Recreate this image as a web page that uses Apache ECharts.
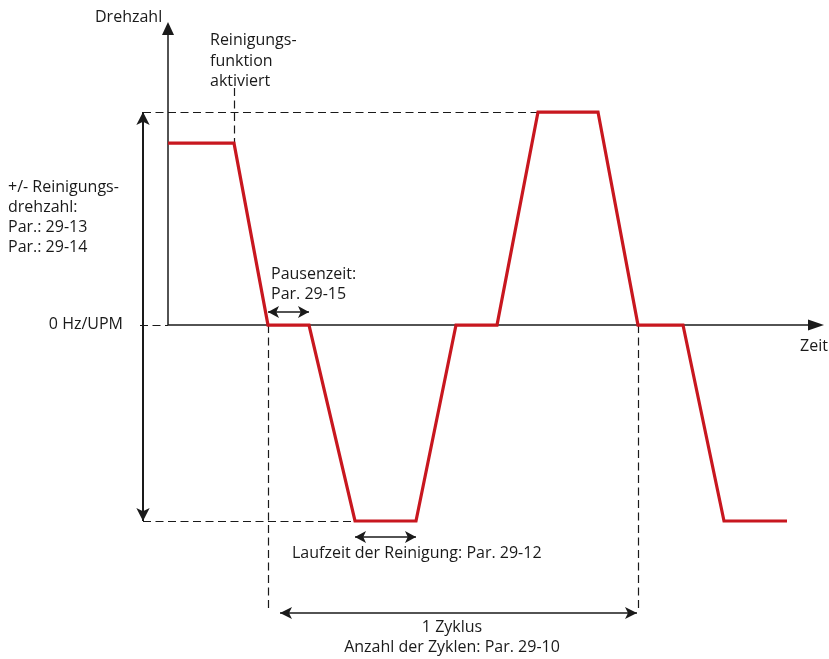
<!DOCTYPE html>
<html><head><meta charset="utf-8">
<script src="https://cdn.jsdelivr.net/npm/echarts@6/dist/echarts.min.js"></script>
<style>html,body{margin:0;padding:0;background:#fff}#c{width:829px;height:659px}</style>
</head><body><div id="c"></div>
<script>
// ---- Data: schematic time units vs. speed (% of cleaning speed) ----
const timePts  = [0, 6.6, 10.0, 14.1, 18.7, 24.8, 28.8, 32.9, 37.0, 43.0, 47.0, 51.5, 55.6, 61.9];
const speedPts = [85.4, 85.4, 0, 0, -92, -92, 0, 0, 100, 100, 0, 0, -92, -92];
const speedTop = 100, speedBottom = -92, speedZero = 0;
const axisTimeEnd = 64.8, axisSpeedEnd = 139.2;
const dimX = -2.5;               // position of the +/- speed dimension arrow
const cycleArrow = [11.2, 46.9]; // 1 Zyklus arrow extent
const levelPause = 6.1, levelRun = -99.5, levelCycle = -135.2, levelDashEnd = -134.5, levelActivated = 111.3;

const labelsTop = ['Reinigungs-', 'funktion', 'aktiviert'];
const labelsLeft = ['+/- Reinigungs-', 'drehzahl:', 'Par.: 29-13', 'Par.: 29-14'];
const labelPause = ['Pausenzeit:', 'Par. 29-15'];
const labelRun = 'Laufzeit der Reinigung: Par. 29-12';
const labelCycle = ['1 Zyklus', 'Anzahl der Zyklen: Par. 29-10'];

const X_MIN = -16.8, X_MAX = 66.1, Y_MIN = -156.8, Y_MAX = 152.6;

const chart = echarts.init(document.getElementById('c'), null, {renderer: 'canvas'});
const INK = '#1a1a1a';
const dashed = {color: INK, width: 1.2, type: [8, 4.5]};
const solid = {color: INK, width: 1.5, type: 'solid'};

function seg(p1, p2, style, sym, size) {
  return [{coord: p1, lineStyle: style, symbol: sym ? sym[0] : 'none', symbolSize: size || 10},
          {coord: p2, symbol: sym ? sym[1] : 'none', symbolSize: size || 10}];
}
const pts = timePts.map((t, i) => [t, speedPts[i]]);

const markData = [
  // axes
  seg([0, speedZero], [0, axisSpeedEnd], solid, ['none', 'triangle'], [12, 13]),
  seg([0, speedZero], [axisTimeEnd, speedZero], solid, ['none', 'triangle'], [11, 16]),
  // dashed helpers
  seg([dimX, speedTop], [timePts[8], speedTop], dashed),
  seg([dimX, speedBottom], [timePts[4], speedBottom], dashed),
  seg([-2.8, speedZero], [0, speedZero], dashed),
  seg([timePts[1], levelActivated], [timePts[1], speedPts[1]], dashed),
  seg([timePts[2], speedZero], [timePts[2], levelDashEnd], dashed),
  seg([timePts[10], speedZero], [timePts[10], levelDashEnd], dashed),
  // dimension arrows
  seg([dimX, speedBottom], [dimX, speedTop], {color: INK, width: 2}, ['arrow', 'arrow'], [10, 13]),
  seg([timePts[2], levelPause], [timePts[3], levelPause], solid, ['arrow', 'arrow'], [9, 11]),
  seg([timePts[4], levelRun], [timePts[5], levelRun], solid, ['arrow', 'arrow'], [9, 11]),
  seg([cycleArrow[0], levelCycle], [cycleArrow[1], levelCycle], solid, ['arrow', 'arrow'], [9, 12])
];

const F = '16px "Open Sans"';
function txt(x, y, text, align) {
  return {type: 'text', x: x, y: y, silent: true, z: 10,
    style: {text: text, font: F, fill: INK, align: align || 'left', verticalAlign: 'middle',
            textAlign: align || 'left', textVerticalAlign: 'middle'}};
}
const graphics = [txt(95, 17, 'Drehzahl')];
const topY = [40, 61, 81];
labelsTop.forEach((s, i) => graphics.push(txt(210, topY[i], s)));
const leftY = [187, 207, 227, 247];
labelsLeft.forEach((s, i) => graphics.push(txt(8, leftY[i], s)));
graphics.push(txt(123, 324, '0 Hz/UPM', 'right'));
graphics.push(txt(800, 346, 'Zeit'));
const pauseY = [274, 294];
labelPause.forEach((s, i) => graphics.push(txt(271, pauseY[i], s)));
graphics.push(txt(292, 553, labelRun));
const cycY = [627, 647];
labelCycle.forEach((s, i) => graphics.push(txt(452, cycY[i], s, 'center')));

chart.setOption({
  animation: false,
  backgroundColor: '#fff',
  grid: {left: 0, right: 0, top: 0, bottom: 0},
  xAxis: {type: 'value', min: X_MIN, max: X_MAX, show: false},
  yAxis: {type: 'value', min: Y_MIN, max: Y_MAX, show: false},
  series: [{
    type: 'line', data: pts, symbol: 'none', silent: true, z: 5,
    lineStyle: {color: '#c8171f', width: 3.2, join: 'miter'},
    markLine: {silent: true, animation: false, label: {show: false},
      emphasis: {disabled: true}, lineStyle: solid, data: markData}
  }],
  graphic: graphics
});
</script></body></html>
